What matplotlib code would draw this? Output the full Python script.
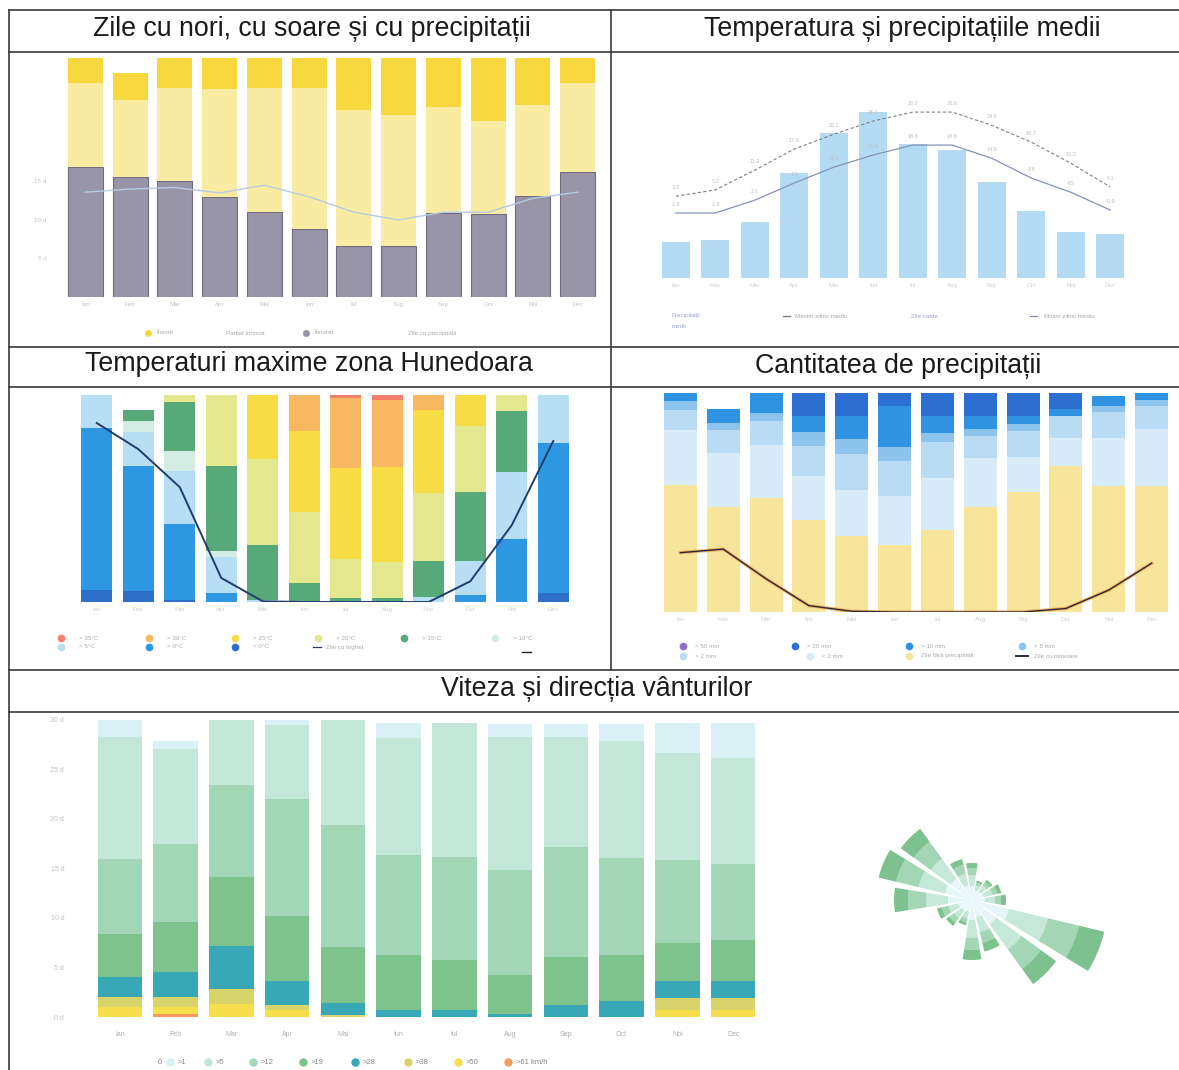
import matplotlib
matplotlib.use("Agg")
import matplotlib.pyplot as plt
import numpy as np
from matplotlib.lines import Line2D

plt.rcParams['font.family'] = ['Liberation Sans', 'DejaVu Sans']

W, H = 1179, 1070

luni = ['Ian', 'Feb', 'Mar', 'Apr', 'Mai', 'Iun', 'Iul', 'Aug', 'Sep', 'Oct', 'Noi', 'Dec']

# --- 1. zile cu nori, cu soare si cu precipitatii (zile)
insorit = [3.2, 3.5, 3.9, 4.0, 3.9, 3.9, 6.7, 7.4, 6.3, 8.2, 6.1, 3.2]
partial = [11.0, 9.9, 12.0, 14.0, 16.1, 18.3, 17.7, 17.0, 13.8, 12.0, 11.8, 11.6]
innorat = [16.8, 15.6, 15.1, 13.0, 11.0, 8.8, 6.6, 6.6, 10.9, 10.8, 13.1, 16.2]
zile_precip = [13.6, 14.0, 14.2, 13.5, 14.5, 13.0, 11.0, 10.0, 11.0, 11.0, 12.8, 13.6]

# --- 2. temperatura si precipitatiile medii
precip_mm = [28, 30, 44, 82, 113, 130, 105, 100, 75, 52, 36, 34]
temp_sus = [3.3, 5.2, 11.2, 17.6, 22.1, 26.1, 28.8, 28.8, 24.8, 19.7, 13.3, 6.1]
temp_jos = [-1.8, -1.8, 2.1, 7.3, 12.1, 15.8, 18.8, 18.8, 14.8, 8.8, 4.5, -0.9]

# --- 3. temperaturi maxime (zile pe clasa, de jos in sus)
tmax_clase = ['< 0°C', '> 0°C', '> 5°C', '> 10°C', '> 15°C', '> 20°C', '> 25°C', '> 30°C', '> 35°C']
tmax_culori = ['#2e6fc9', '#2d97e2', '#b7def5', '#d3ece4', '#58a97a', '#e3e88e', '#f8dc45', '#f8b862', '#f3806c']
tmax_zile = [
    [1.8, 24.3, 4.9, 0, 0, 0, 0, 0, 0],
    [1.6, 18.8, 5.0, 1.7, 1.7, 0, 0, 0, 0],
    [0.3, 11.4, 7.9, 3.0, 7.4, 1.0, 0, 0, 0],
    [0, 1.3, 5.4, 1.0, 12.6, 10.7, 0, 0, 0],
    [0, 0, 0.3, 0, 8.2, 12.9, 9.6, 0, 0],
    [0, 0, 0, 0, 2.8, 10.7, 12.1, 5.4, 0],
    [0, 0, 0, 0, 0.6, 5.9, 13.6, 10.4, 0.5],
    [0, 0, 0, 0, 0.6, 5.4, 14.2, 10.1, 0.7],
    [0, 0, 0.8, 0, 5.4, 10.1, 12.5, 2.2, 0],
    [0, 1.1, 5.0, 0, 10.4, 9.9, 4.6, 0, 0],
    [0, 9.5, 9.9, 0, 9.2, 2.4, 0, 0, 0],
    [1.3, 22.5, 7.2, 0, 0, 0, 0, 0, 0],
]
zile_inghet = [26.8, 22.9, 17.2, 3.6, 0.1, 0, 0, 0, 0, 3.1, 11.5, 24.1]

# --- 4. cantitatea de precipitatii (zile pe clasa, de jos in sus)
pp_clase = ['Zile fără precipitații', '< 2 mm', '> 2 mm', '> 5 mm', '> 10 mm', '> 20 mm', '> 50 mm']
pp_culori = ['#f7e59c', '#d8ebf8', '#b9dcf4', '#8cc4ee', '#3093e2', '#2d6fd0', '#8a6fcf']
pp_zile = [
    [18.0, 7.8, 2.8, 1.2, 1.2, 0, 0],
    [14.9, 7.6, 3.3, 1.0, 1.9, 0, 0],
    [16.1, 7.6, 3.3, 1.2, 2.8, 0, 0],
    [13.0, 6.2, 4.3, 2.0, 2.3, 3.2, 0],
    [10.7, 6.6, 5.0, 2.2, 3.2, 3.3, 0],
    [9.5, 6.9, 5.0, 2.0, 5.7, 1.9, 0],
    [11.6, 7.3, 5.2, 1.2, 2.4, 3.3, 0],
    [14.9, 6.9, 3.1, 1.0, 1.8, 3.3, 0],
    [17.0, 5.0, 3.6, 1.0, 1.1, 3.3, 0],
    [20.6, 4.0, 3.1, 0, 1.0, 2.3, 0],
    [17.8, 6.9, 3.6, 0.8, 1.5, 0, 0],
    [17.8, 8.1, 3.3, 0.8, 1.0, 0, 0],
]
zile_ninsoare = [8.4, 8.9, 4.7, 0.9, 0.1, 0, 0, 0, 0, 0.5, 3.1, 6.9]

# --- 5. viteza vantului (zile pe clasa, de jos in sus)
vant_clase = ['>61 km/h', '>50', '>38', '>28', '>19', '>12', '>5', '>1', '0']
vant_culori = ['#f59a5d', '#f6de4c', '#d8d46c', '#38a8b6', '#7ec28e', '#a3d6b6', '#c3e7d8', '#d9f0f5', '#ffffff']
vant_zile = [
    [0, 1.0, 1.0, 2.0, 4.4, 7.6, 12.3, 1.7, 1.0],
    [0.3, 0.7, 1.0, 2.5, 5.1, 7.9, 9.6, 0.8, 0.1],
    [0, 1.3, 1.5, 4.4, 6.9, 9.3, 6.6, 0, 1.0],
    [0, 0.7, 0.5, 2.4, 6.6, 11.8, 7.5, 0.5, 0],
    [0, 0, 0.2, 1.2, 5.7, 12.3, 10.6, 0, 1.0],
    [0, 0, 0, 0.7, 5.6, 10.1, 11.8, 1.5, 0.3],
    [0, 0, 0, 0.7, 5.1, 10.4, 13.5, 0, 1.3],
    [0, 0, 0, 0.3, 3.9, 10.6, 13.5, 1.3, 1.4],
    [0, 0, 0, 1.2, 4.9, 11.1, 11.1, 1.3, 0.4],
    [0, 0, 0, 1.6, 4.7, 9.8, 11.8, 1.7, 1.4],
    [0, 0.7, 1.2, 1.7, 3.9, 8.4, 10.8, 3.0, 0.3],
    [0, 0.7, 1.2, 1.7, 4.2, 7.6, 10.8, 3.5, 1.3],
]

# roza vanturilor (16 directii)
directii = ['N', 'NNE', 'NE', 'ENE', 'E', 'ESE', 'SE', 'SSE', 'S', 'SSV', 'SV', 'VSV', 'V', 'VNV', 'NV', 'NNV']
roza_1 = [14, 10, 11, 12, 13, 38, 30, 18, 20, 12, 13, 14, 24, 28, 26, 15]
roza_5 = [11, 5, 7, 9, 10, 40, 31, 15, 18, 7, 9, 10, 22, 27, 25, 12]
roza_12 = [7, 3, 4, 5, 6, 32, 24, 11, 12, 4, 6, 7, 18, 23, 21, 9]
roza_19 = [5, 2, 3, 4, 5, 26, 19, 9, 10, 3, 4, 5, 14, 18, 16, 6]

fig = plt.figure(figsize=(W / 100, H / 100), dpi=100)


def px_axes(x0, y0, x1, y1, polar=False):
    return fig.add_axes([x0 / W, 1 - y1 / H, (x1 - x0) / W, (y1 - y0) / H], polar=polar)


def curat(ax):
    for s in ax.spines.values():
        s.set_visible(False)
    ax.tick_params(length=0)


def txt(x, y, s, **kw):
    fig.text(x / W, 1 - y / H, s, **kw)


def punct(x, y, c, ms=4.5):
    fig.add_artist(Line2D([x / W], [1 - y / H], marker='o', ms=ms, color=c, ls='none'))


def linie(x0, y0, x1, y1, c='#3a3a3a', lw=1.2):
    fig.add_artist(Line2D([x0 / W, x1 / W], [1 - y0 / H, 1 - y1 / H], color=c, lw=lw))


x = np.arange(12)
gri = '#c4c4c4'

# chenarul tabelului
linie(9, 10, 9, 1070)
linie(9, 10, 1179, 10)
for yy in [52, 347, 387, 670, 712]:
    linie(9, yy, 1179, yy)
linie(611, 10, 611, 670)

titlu = dict(fontsize=19.3, color='#1a1a1a', ha='center', va='center')
txt(312, 29, 'Zile cu nori, cu soare și cu precipitații', **titlu)
txt(902, 29, 'Temperatura și precipitațiile medii', **titlu)
txt(309, 364, 'Temperaturi maxime zona Hunedoara', **titlu)
txt(898, 366, 'Cantitatea de precipitații', **titlu)
txt(597, 689, 'Viteza și direcția vânturilor', **titlu)

# ---------- 1
ax = px_axes(63, 58, 600, 297)
ax.bar(x, innorat, 0.78, color='#9895a8', edgecolor='#6f6c80', lw=0.8)
ax.bar(x, partial, 0.78, bottom=innorat, color='#f9eca2')
ax.bar(x, insorit, 0.78, bottom=np.add(innorat, partial), color='#f7d83f')
ax.plot(x, zile_precip, color='#b4cce4', lw=1.0)
ax.set_xlim(-0.5, 11.5)
ax.set_ylim(0, 31)
ax.set_xticks(x, luni, fontsize=4.5, color=gri)
ax.set_yticks([5, 10, 15], ['5 d', '10 d', '15 d'], fontsize=4.5, color=gri)
ax.tick_params(axis='y', pad=12)
curat(ax)
leg1 = [(148, 'Însorit', '#f7d83f'), (218, 'Parțial înnorat', None), (306, 'Înnorat', '#9895a8'),
        (400, 'Zile cu precipitații', None)]
for xx, s, c in leg1:
    if c:
        punct(xx, 333, c, 4)
    txt(xx + 8, 333, s, fontsize=4.5, color='#aaaaaa', va='center')

# ---------- 2
ax = px_axes(656, 90, 1130, 278)
ax.bar(x, precip_mm, 0.71, color='#b5daf3')
ax.set_xlim(-0.5, 11.5)
ax.set_ylim(0, 188 / 1.28)
ax.set_xticks(x, luni, fontsize=4.5, color='#d0d0d0')
ax.set_yticks([])
curat(ax)
ax2 = ax.twinx()
ax2.plot(x, temp_sus, color='#808080', lw=0.8, ls=(0, (3, 2)))
ax2.plot(x, temp_jos, color='#8494b8', lw=0.9)
for i in range(12):
    ax2.text(i, temp_sus[i] + 2.2, f'{temp_sus[i]:.1f}', fontsize=4, color='#c0c0c0', ha='center')
    ax2.text(i, temp_jos[i] + 2.2, f'{temp_jos[i]:.1f}', fontsize=4, color='#c0c0c0', ha='center')
ax2.set_ylim(-21.5, 35.5)
ax2.set_yticks([])
curat(ax2)
txt(672, 316, 'Precipitații', fontsize=4.5, color='#9aa4d0', va='center')
txt(672, 326, 'medii', fontsize=4.5, color='#9aa4d0', va='center')
linie(783, 316, 790, 316, '#777777', 0.9)
txt(795, 316, 'Maxim zilnic mediu', fontsize=4.5, color='#aaaaaa', va='center')
txt(911, 316, 'Zile calde', fontsize=4.5, color='#9aa4d0', va='center')
linie(1030, 316, 1037, 316, '#8494b8', 0.9)
txt(1044, 316, 'Minim zilnic mediu', fontsize=4.5, color='#aaaaaa', va='center')

# ---------- 3
ax = px_axes(76, 395, 574, 602)
jos = np.zeros(12)
for k in range(len(tmax_clase)):
    v = [tmax_zile[m][k] for m in range(12)]
    ax.bar(x, v, 0.75, bottom=jos, color=tmax_culori[k])
    jos = jos + v
ax.plot(x, zile_inghet, color='#223c70', lw=1.4)
ax.set_xlim(-0.5, 11.5)
ax.set_ylim(0, 31)
ax.set_xticks(x, luni, fontsize=4.5, color='#d0d0d0')
ax.set_yticks([])
curat(ax)
rand1 = [(61, 8), (149, 7), (235, 6), (318, 5), (404, 4), (495, 3)]
for xx, k in rand1:
    punct(xx, 638, tmax_culori[k], 4.5)
    txt(xx + 18, 638, tmax_clase[k], fontsize=4.5, color='#aaaaaa', va='center')
rand2 = [(61, 2), (149, 1), (235, 0)]
for xx, k in rand2:
    punct(xx, 647, tmax_culori[k], 4.5)
    txt(xx + 18, 647, tmax_clase[k], fontsize=4.5, color='#aaaaaa', va='center')
linie(313, 647, 321, 647, '#223c70', 0.9)
txt(326, 647, 'Zile cu îngheț', fontsize=4.5, color='#aaaaaa', va='center')
linie(522, 652, 531, 652, '#222222', 1.0)

# ---------- 4
ax = px_axes(659, 393, 1173, 612)
jos = np.zeros(12)
for k in range(len(pp_clase)):
    v = [pp_zile[m][k] for m in range(12)]
    ax.bar(x, v, 0.77, bottom=jos, color=pp_culori[k])
    jos = jos + v
ax.plot(x, zile_ninsoare, color='#f0a04a', lw=2.4, alpha=0.8)
ax.plot(x, zile_ninsoare, color='#2a2a3a', lw=1.0)
ax.set_xlim(-0.5, 11.5)
ax.set_ylim(0, 31)
ax.set_xticks(x, luni, fontsize=4.5, color='#d0d0d0')
ax.set_yticks([])
curat(ax)
rand1 = [(683, 6), (795, 5), (909, 4), (1022, 3)]
for xx, k in rand1:
    punct(xx, 646, pp_culori[k], 4.5)
    txt(xx + 12, 646, pp_clase[k], fontsize=4.5, color='#aaaaaa', va='center')
rand2 = [(683, 2), (810, 1), (909, 0)]
for xx, k in rand2:
    punct(xx, 656, pp_culori[k], 4.5)
    txt(xx + 12, 656, pp_clase[k], fontsize=4.5, color='#aaaaaa', va='center')
linie(1016, 656, 1028, 656, '#2a2a3a', 1.4)
txt(1034, 656, 'Zile cu ninsoare', fontsize=4.5, color='#aaaaaa', va='center')

# ---------- 5
ax = px_axes(92, 710, 761, 1017)
jos = np.zeros(12)
for k in range(len(vant_clase)):
    v = [vant_zile[m][k] for m in range(12)]
    ax.bar(x, v, 0.8, bottom=jos, color=vant_culori[k])
    jos = jos + v
ax.set_xlim(-0.5, 11.5)
ax.set_ylim(0, 31)
ax.set_xticks(x, luni, fontsize=5, color='#b0b0b0')
ax.set_yticks(range(0, 31, 5), [f'{d} d' for d in range(0, 31, 5)], fontsize=5, color='#c0c0c0')
ax.tick_params(axis='y', pad=20)
ax.tick_params(axis='x', pad=10)
curat(ax)
leg5 = [(150, 8), (170, 7), (208, 6), (253, 5), (303, 4), (355, 3), (408, 2), (458, 1), (508, 0)]
for xx, k in leg5:
    if k < 8:
        punct(xx, 1062, vant_culori[k], 5)
    txt(xx + 8, 1062, vant_clase[k], fontsize=5.5, color='#888888', va='center')

# roza vanturilor
axr = px_axes(822, 750, 1122, 1050, polar=True)
unghi = np.deg2rad(np.arange(16) * 22.5)
jos = np.zeros(16)
for r, c in [(roza_1, '#e6f6f8'), (roza_5, '#c5e8d8'), (roza_12, '#a3d6b4'), (roza_19, '#7cc18e')]:
    axr.bar(unghi, r, width=np.deg2rad(18), bottom=jos, color=c)
    jos = jos + np.array(r)
axr.set_theta_zero_location('N')
axr.set_theta_direction(-1)
axr.set_ylim(0, 150)
axr.axis('off')

fig.savefig('out.png', dpi=100)
